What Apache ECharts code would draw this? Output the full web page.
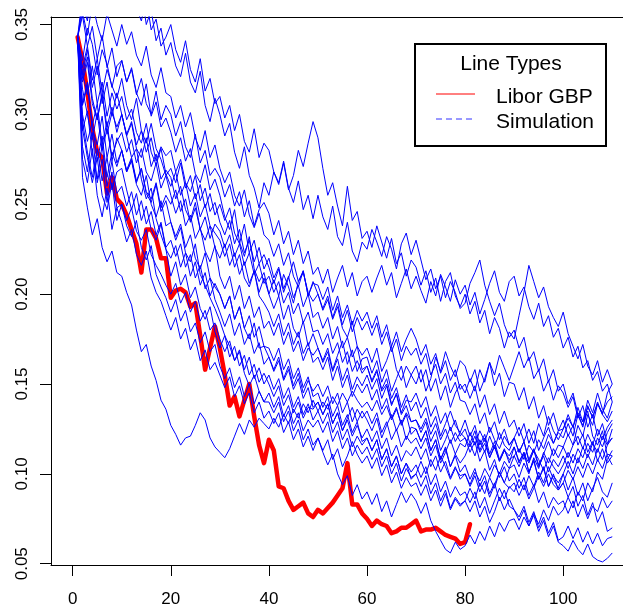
<!DOCTYPE html>
<html><head><meta charset="utf-8">
<script src="https://cdn.jsdelivr.net/npm/echarts@6/dist/echarts.min.js"></script>
<style>html,body{margin:0;padding:0;background:#fff;overflow:hidden;}#c{width:623px;height:610px;}</style>
</head><body><div id="c"></div>
<script>
const xTicks = [0, 20, 40, 60, 80, 100];
const yTicks = [0.05, 0.10, 0.15, 0.20, 0.25, 0.30, 0.35];
const legendTitle = 'Line Types';
const legendNames = ['Libor GBP', 'Simulation'];

const libor = [0.343,0.330,0.312,0.292,0.279,0.276,0.256,0.265,0.253,0.250,
0.244,0.236,0.228,0.212,0.236,0.236,0.231,0.220,0.220,0.198,
0.202,0.203,0.201,0.193,0.195,0.177,0.158,0.170,0.182,0.170,
0.155,0.138,0.143,0.132,0.141,0.150,0.132,0.116,0.106,0.119,
0.113,0.093,0.092,0.085,0.080,0.082,0.084,0.078,0.076,0.080,
0.078,0.081,0.084,0.088,0.092,0.106,0.083,0.083,0.078,0.075,
0.071,0.074,0.072,0.071,0.067,0.068,0.070,0.070,0.072,0.074,
0.068,0.069,0.069,0.070,0.068,0.066,0.065,0.064,0.061,0.062,0.072];

const sim01 = [.343,.361,.352,.374,.366,.389,.371,.380,.362,.370,.381,.364,.357,.369,.350,.358,.341,.348,.333,.340,.327,.321,.334,.318,.312,.324,.305,.296,.309,.300,.288,.295,.279,.270,.282,.266,.259,.248,.262,.255,.268,.261,.273,.258,.266,.280,.271,.284,.296,.287,.270,.255,.262,.249,.238,.260,.241,.246,.231,.235,.226,.238,.229,.220,.231,.217,.223,.210,.219,.215,.205,.213,.201,.209,.196,.207,.212,.199,.193,.200,.189,.196,.184,.191,.178,.187,.181,.170,.179,.175,.188,.201,.216,.207,.198,.204,.193,.187,.182,.190,.178,.171,.164,.172,.160,.155,.163,.151,.158,.150];
const sim02 = [.343,.366,.381,.370,.392,.378,.386,.372,.395,.380,.367,.374,.359,.352,.365,.347,.353,.338,.343,.350,.336,.329,.341,.325,.318,.331,.313,.320,.306,.310,.298,.305,.291,.300,.285,.279,.292,.276,.284,.280,.268,.262,.274,.259,.251,.263,.247,.255,.242,.255,.243,.236,.249,.232,.227,.240,.224,.218,.229,.225,.236,.229,.221,.232,.225,.214,.228,.234,.222,.230,.219,.208,.214,.203,.210,.198,.207,.201,.192,.195,.206,.212,.219,.205,.196,.188,.195,.183,.176,.180,.170,.176,.163,.168,.157,.164,.151,.158,.146,.150,.139,.145,.133,.127,.135,.121,.116,.124,.110,.105];
const sim03 = [.343,.330,.348,.339,.322,.336,.328,.315,.327,.330,.318,.325,.311,.320,.306,.300,.313,.297,.305,.300,.288,.296,.282,.276,.289,.273,.280,.266,.270,.265,.254,.261,.249,.257,.243,.252,.238,.247,.251,.245,.233,.241,.228,.235,.222,.230,.217,.224,.211,.215,.206,.214,.201,.209,.216,.204,.212,.199,.207,.210,.201,.209,.216,.205,.212,.198,.206,.214,.203,.210,.202,.195,.207,.199,.211,.204,.196,.208,.200,.205,.194,.201,.189,.197,.206,.213,.201,.196,.207,.210,.199,.204,.193,.186,.195,.182,.188,.176,.181,.170,.176,.165,.171,.159,.163,.152,.157,.146,.150,.140];
const sim04 = [.343,.357,.344,.362,.350,.341,.356,.347,.338,.350,.339,.346,.333,.327,.338,.322,.315,.326,.312,.310,.298,.305,.293,.301,.287,.280,.291,.276,.283,.270,.262,.268,.255,.249,.258,.244,.237,.245,.233,.230,.221,.228,.216,.223,.210,.204,.213,.199,.207,.200,.191,.197,.186,.193,.181,.176,.185,.171,.166,.170,.162,.170,.157,.163,.171,.158,.152,.160,.155,.160,.151,.158,.146,.153,.141,.149,.137,.145,.150,.145,.153,.146,.158,.151,.162,.155,.166,.159,.152,.160,.168,.159,.165,.153,.158,.146,.152,.141,.149,.145,.137,.143,.131,.138,.126,.133,.121,.128,.117,.120];
const sim05 = [.343,.326,.338,.319,.331,.312,.325,.316,.309,.320,.305,.297,.309,.291,.284,.295,.281,.275,.266,.270,.262,.273,.259,.266,.253,.261,.248,.256,.244,.250,.241,.248,.234,.228,.239,.223,.230,.217,.222,.215,.206,.214,.201,.209,.218,.207,.213,.199,.206,.205,.197,.204,.191,.199,.187,.194,.183,.191,.185,.190,.181,.188,.176,.183,.171,.179,.168,.175,.181,.175,.166,.172,.161,.167,.156,.163,.152,.158,.147,.150,.142,.149,.137,.144,.133,.139,.128,.135,.126,.130,.121,.128,.117,.124,.113,.120,.126,.117,.123,.120,.128,.121,.133,.126,.138,.131,.140,.133,.129,.135];
const sim06 = [.343,.320,.332,.309,.297,.311,.293,.304,.290,.300,.289,.296,.283,.291,.279,.287,.274,.282,.277,.280,.268,.275,.262,.257,.266,.252,.259,.246,.251,.240,.233,.241,.228,.236,.223,.230,.218,.226,.214,.220,.209,.215,.203,.210,.198,.205,.193,.200,.187,.190,.181,.187,.175,.182,.170,.176,.165,.171,.158,.160,.152,.158,.147,.153,.142,.148,.137,.144,.135,.140,.131,.137,.126,.132,.121,.128,.135,.127,.123,.130,.121,.127,.116,.122,.111,.118,.108,.114,.106,.115,.107,.112,.101,.108,.097,.104,.093,.100,.091,.095,.087,.093,.082,.088,.077,.084,.073,.079,.068,.070];
const sim07 = [.343,.355,.338,.349,.331,.344,.326,.337,.321,.330,.318,.326,.312,.305,.317,.299,.307,.293,.298,.290,.279,.287,.274,.281,.267,.262,.272,.258,.264,.255,.243,.236,.247,.229,.221,.232,.214,.207,.212,.200,.192,.199,.186,.194,.181,.176,.185,.171,.178,.170,.163,.170,.158,.166,.174,.161,.169,.157,.164,.165,.156,.163,.151,.158,.146,.153,.160,.148,.155,.150,.158,.146,.153,.165,.157,.168,.160,.154,.163,.160,.151,.158,.146,.153,.162,.149,.156,.143,.151,.150,.141,.148,.136,.143,.131,.138,.127,.134,.124,.130,.121,.127,.116,.122,.112,.118,.107,.114,.106,.110];
const sim08 = [.343,.318,.329,.306,.297,.312,.289,.301,.293,.300,.288,.295,.281,.276,.287,.271,.278,.264,.269,.265,.253,.260,.247,.241,.251,.236,.230,.238,.226,.220,.228,.216,.223,.211,.218,.206,.213,.201,.209,.200,.208,.199,.211,.204,.195,.207,.212,.201,.196,.200,.192,.199,.187,.195,.183,.191,.179,.187,.180,.185,.177,.184,.172,.179,.168,.175,.163,.171,.166,.170,.161,.167,.155,.161,.150,.156,.145,.151,.141,.140,.133,.139,.128,.134,.123,.129,.119,.125,.116,.120,.112,.118,.107,.113,.104,.110,.101,.108,.104,.110,.103,.111,.106,.115,.109,.117,.112,.121,.116,.125];
const sim09 = [.343,.323,.311,.327,.306,.318,.299,.312,.303,.310,.297,.303,.290,.284,.295,.279,.272,.281,.267,.260,.268,.255,.262,.249,.256,.243,.250,.238,.234,.230,.221,.228,.215,.222,.209,.204,.213,.199,.195,.190,.182,.189,.177,.184,.172,.179,.167,.173,.162,.165,.158,.165,.152,.160,.148,.155,.143,.150,.145,.150,.141,.147,.136,.142,.131,.137,.127,.133,.122,.125,.118,.124,.113,.119,.108,.115,.104,.111,.106,.110,.117,.110,.119,.112,.121,.114,.123,.116,.113,.120,.126,.118,.125,.117,.128,.121,.132,.124,.119,.125,.133,.126,.137,.129,.141,.134,.145,.136,.131,.140];
const sim10 = [.343,.314,.300,.286,.301,.280,.292,.277,.285,.290,.279,.286,.273,.281,.268,.263,.273,.259,.266,.255,.245,.252,.238,.244,.231,.237,.224,.218,.227,.210,.203,.210,.197,.205,.192,.199,.187,.193,.181,.185,.177,.184,.172,.179,.168,.174,.163,.170,.166,.170,.162,.168,.157,.164,.152,.159,.147,.154,.149,.155,.147,.153,.142,.149,.138,.145,.134,.141,.140,.145,.137,.143,.132,.138,.128,.134,.124,.130,.121,.125,.117,.124,.113,.120,.109,.116,.107,.113,.110,.115,.106,.112,.101,.107,.097,.103,.093,.099,.095,.100,.091,.098,.088,.095,.085,.092,.098,.090,.087,.095];
const sim11 = [.343,.305,.316,.292,.283,.299,.276,.289,.273,.280,.269,.276,.263,.270,.257,.253,.262,.248,.255,.250,.258,.246,.253,.240,.248,.236,.243,.231,.239,.235,.226,.233,.221,.228,.216,.223,.211,.217,.206,.210,.201,.207,.195,.201,.189,.195,.184,.190,.179,.180,.172,.178,.167,.173,.162,.168,.157,.163,.156,.160,.151,.157,.146,.150,.139,.144,.133,.138,.129,.130,.123,.129,.118,.124,.113,.119,.126,.118,.123,.120,.112,.118,.107,.113,.102,.108,.098,.104,.096,.100,.092,.098,.088,.094,.084,.090,.081,.087,.083,.085,.078,.085,.076,.083,.075,.082,.079,.087,.081,.085];
const sim12 = [.343,.300,.285,.296,.274,.288,.265,.279,.271,.280,.268,.274,.261,.255,.266,.250,.243,.252,.238,.240,.232,.239,.226,.233,.220,.214,.223,.209,.204,.200,.192,.199,.186,.193,.181,.175,.184,.170,.171,.165,.158,.165,.153,.160,.149,.156,.145,.152,.146,.150,.143,.149,.139,.145,.134,.140,.129,.136,.131,.135,.128,.134,.123,.129,.119,.125,.115,.121,.117,.120,.114,.120,.110,.116,.106,.112,.119,.111,.117,.115,.123,.116,.124,.118,.126,.119,.114,.121,.116,.120,.112,.118,.108,.114,.105,.111,.118,.110,.116,.115,.109,.116,.121,.114,.122,.116,.125,.119,.126,.130];
const sim13 = [.343,.296,.279,.265,.281,.263,.276,.258,.268,.270,.258,.247,.256,.241,.249,.236,.230,.239,.225,.220,.227,.215,.223,.210,.218,.205,.212,.199,.206,.200,.192,.199,.186,.193,.181,.188,.176,.182,.171,.170,.163,.170,.158,.164,.153,.159,.148,.154,.143,.145,.137,.143,.132,.138,.127,.133,.123,.129,.118,.120,.113,.119,.108,.114,.104,.110,.100,.106,.101,.105,.098,.104,.094,.100,.090,.096,.087,.093,.088,.090,.084,.090,.081,.087,.078,.085,.092,.086,.093,.090,.097,.091,.099,.093,.101,.095,.104,.097,.092,.100,.107,.100,.109,.103,.111,.105,.114,.108,.116,.120];
const sim14 = [.343,.291,.302,.278,.264,.283,.260,.274,.256,.260,.249,.257,.244,.252,.239,.246,.233,.240,.226,.230,.221,.228,.215,.222,.209,.216,.203,.209,.197,.190,.182,.189,.177,.184,.172,.178,.167,.173,.161,.165,.157,.163,.152,.158,.147,.153,.142,.148,.137,.140,.133,.139,.128,.134,.124,.131,.137,.129,.135,.130,.124,.131,.120,.127,.133,.124,.130,.119,.126,.125,.118,.124,.113,.119,.108,.114,.104,.110,.101,.105,.097,.103,.093,.099,.089,.095,.085,.091,.082,.080,.076,.082,.073,.079,.070,.076,.067,.073,.063,.065,.071,.064,.070,.062,.068,.061,.067,.060,.064,.065];
const sim15 = [.343,.322,.336,.315,.327,.306,.318,.299,.312,.300,.288,.276,.281,.264,.253,.259,.242,.233,.225,.210,.218,.205,.211,.198,.204,.192,.186,.193,.179,.170,.177,.165,.171,.160,.166,.155,.161,.151,.156,.150,.143,.149,.138,.144,.134,.140,.131,.137,.136,.140,.133,.139,.128,.134,.124,.130,.121,.127,.120,.125,.118,.124,.114,.120,.110,.116,.107,.113,.110,.115,.108,.114,.104,.110,.101,.107,.098,.104,.097,.100,.093,.099,.090,.096,.087,.094,.101,.095,.092,.095,.088,.094,.086,.092,.099,.093,.100,.094,.091,.095,.102,.097,.104,.098,.106,.100,.108,.103,.111,.110];
const sim16 = [.343,.282,.268,.290,.262,.275,.251,.268,.248,.250,.241,.248,.235,.230,.236,.222,.216,.211,.205,.200,.206,.195,.201,.190,.196,.185,.191,.180,.184,.175,.168,.174,.163,.169,.158,.165,.153,.159,.150,.155,.147,.153,.142,.148,.137,.143,.133,.139,.130,.135,.128,.134,.123,.129,.119,.125,.115,.121,.116,.120,.113,.119,.108,.114,.104,.110,.100,.106,.097,.100,.093,.099,.089,.095,.085,.091,.081,.087,.083,.085,.079,.085,.076,.082,.073,.079,.087,.080,.086,.080,.074,.080,.071,.077,.068,.074,.065,.071,.062,.060,.057,.063,.058,.055,.061,.054,.052,.051,.053,.056];
const sim17 = [.343,.306,.318,.294,.306,.283,.296,.274,.287,.280,.268,.275,.262,.270,.256,.251,.261,.246,.252,.240,.230,.237,.223,.218,.228,.211,.205,.198,.192,.185,.177,.171,.163,.168,.156,.149,.155,.146,.140,.140,.134,.140,.129,.135,.124,.130,.119,.125,.116,.120,.113,.119,.108,.114,.104,.110,.118,.111,.106,.110,.103,.109,.099,.105,.095,.101,.092,.098,.093,.095,.088,.094,.085,.091,.082,.089,.080,.086,.082,.085,.092,.086,.095,.089,.098,.092,.101,.095,.103,.105,.098,.106,.100,.109,.103,.112,.106,.114,.109,.115,.122,.116,.127,.121,.133,.127,.139,.133,.145,.150];
const sim18 = [.343,.275,.262,.281,.255,.243,.259,.236,.248,.240,.229,.236,.222,.216,.224,.209,.201,.196,.188,.180,.187,.175,.181,.169,.175,.163,.169,.158,.162,.155,.148,.154,.143,.149,.139,.145,.134,.140,.131,.135,.128,.134,.123,.129,.119,.125,.115,.121,.113,.120,.112,.105,.111,.100,.094,.099,.088,.094,.086,.090,.083,.089,.079,.085,.076,.083,.090,.084,.089,.085,.078,.084,.074,.068,.063,.058,.056,.062,.058,.060,.066,.061,.068,.063,.071,.065,.073,.068,.074,.075,.069,.076,.071,.078,.072,.080,.074,.082,.077,.080,.087,.081,.090,.085,.095,.090,.101,.097,.108,.113];
const sim19 = [.343,.292,.276,.262,.276,.255,.247,.262,.241,.250,.238,.232,.241,.226,.219,.227,.211,.204,.198,.190,.197,.185,.191,.179,.184,.173,.179,.168,.172,.160,.153,.159,.148,.154,.143,.150,.139,.146,.140,.145,.137,.143,.132,.138,.128,.134,.124,.130,.126,.130,.123,.129,.118,.124,.114,.120,.110,.116,.111,.115,.108,.114,.104,.110,.100,.106,.096,.103,.098,.100,.107,.100,.108,.102,.110,.104,.097,.103,.099,.100,.094,.101,.096,.103,.098,.105,.100,.107,.103,.110,.104,.111,.106,.113,.108,.102,.109,.104,.100,.105,.112,.106,.114,.109,.117,.112,.120,.115,.123,.128];
const sim20 = [.343,.265,.248,.233,.242,.226,.218,.224,.212,.210,.201,.194,.180,.168,.172,.160,.152,.141,.136,.127,.122,.116,.120,.121,.127,.134,.130,.120,.115,.112,.109,.114,.121,.128,.122,.130,.126,.131,.128,.125,.131,.126,.133,.128,.136,.131,.139,.134,.141,.135,.140,.136,.143,.138,.145,.140,.146,.141,.137,.140,.135,.141,.133,.138,.130,.136,.128,.134,.129,.130,.125,.131,.122,.128,.119,.125,.117,.123,.118,.120,.115,.121,.112,.117,.109,.115,.107,.113,.108,.110,.114,.108,.116,.112,.119,.114,.122,.117,.124,.125,.131,.126,.134,.129,.137,.132,.139,.134,.140,.143];

const sims = [sim01,sim02,sim03,sim04,sim05,sim06,sim07,sim08,sim09,sim10,
              sim11,sim12,sim13,sim14,sim15,sim16,sim17,sim18,sim19,sim20];

const FONT = '"Liberation Sans", Arial, Helvetica, sans-serif';
const toPts = arr => arr.map((v, i) => [i + 1, v]);
const X_MIN = -4.424, X_MAX = 112.19, Y_MIN = 0.0493, Y_MAX = 0.3542;

const series = [];
series.push({
  name: legendNames[0], type: 'line', data: toPts(libor), symbol: 'none',
  lineStyle: { color: '#ff0000', width: 4.5, join: 'round', cap: 'round' }, z: 2
});
sims.forEach((s, k) => series.push({
  name: legendNames[1] + ' ' + (k + 1), type: 'line', data: toPts(s), symbol: 'none',
  lineStyle: { color: '#0000ff', width: 1 }, z: 3
}));

const chart = echarts.init(document.getElementById('c'), null, { renderer: 'canvas' });
chart.setOption({
  animation: false,
  backgroundColor: '#ffffff',
  grid: { left: 51, top: 17, right: 0, bottom: 45, show: false },
  xAxis: [{
    type: 'value', min: X_MIN, max: X_MAX, position: 'bottom',
    splitLine: { show: false },
    axisLine: { show: true, onZero: false, lineStyle: { color: '#000', width: 1 } },
    axisTick: { show: true, inside: false, length: 11, customValues: xTicks, lineStyle: { color: '#000', width: 1 } },
    axisLabel: { customValues: xTicks, margin: 26, color: '#000', fontSize: 17, fontFamily: FONT,
      formatter: v => String(Math.round(v)) }
  }, {
    type: 'value', min: X_MIN, max: X_MAX, position: 'top',
    splitLine: { show: false },
    axisLine: { show: true, onZero: false, lineStyle: { color: '#000', width: 1 } },
    axisTick: { show: false }, axisLabel: { show: false }
  }],
  yAxis: {
    type: 'value', min: Y_MIN, max: Y_MAX,
    splitLine: { show: false },
    axisLine: { show: true, onZero: false, lineStyle: { color: '#000', width: 1 } },
    axisTick: { show: true, inside: false, length: 11, customValues: yTicks, lineStyle: { color: '#000', width: 1 } },
    axisLabel: { customValues: yTicks, rotate: 90, margin: 20, color: '#000', fontSize: 17, fontFamily: FONT,
      formatter: v => v.toFixed(2) }
  },
  series: series,
  graphic: [
    { type: 'rect', z: 100, shape: { x: 415, y: 44, width: 191, height: 102 },
      style: { fill: '#ffffff', stroke: '#000000', lineWidth: 2 } },
    { type: 'text', z: 101, style: { text: legendTitle, x: 511, y: 64, align: 'center', verticalAlign: 'middle',
      font: '21px ' + FONT, fill: '#000' } },
    { type: 'line', z: 101, shape: { x1: 436, y1: 94, x2: 475, y2: 94 }, style: { stroke: '#ff0000', lineWidth: 1 } },
    { type: 'line', z: 101, shape: { x1: 436, y1: 119, x2: 475, y2: 119 }, style: { stroke: '#3333ff', lineWidth: 1, lineDash: [6, 4] } },
    { type: 'text', z: 101, style: { text: legendNames[0], x: 496, y: 97.5, align: 'left', verticalAlign: 'middle',
      font: '21px ' + FONT, fill: '#000' } },
    { type: 'text', z: 101, style: { text: legendNames[1], x: 496, y: 122.5, align: 'left', verticalAlign: 'middle',
      font: '21px ' + FONT, fill: '#000' } }
  ]
});
</script></body></html>
